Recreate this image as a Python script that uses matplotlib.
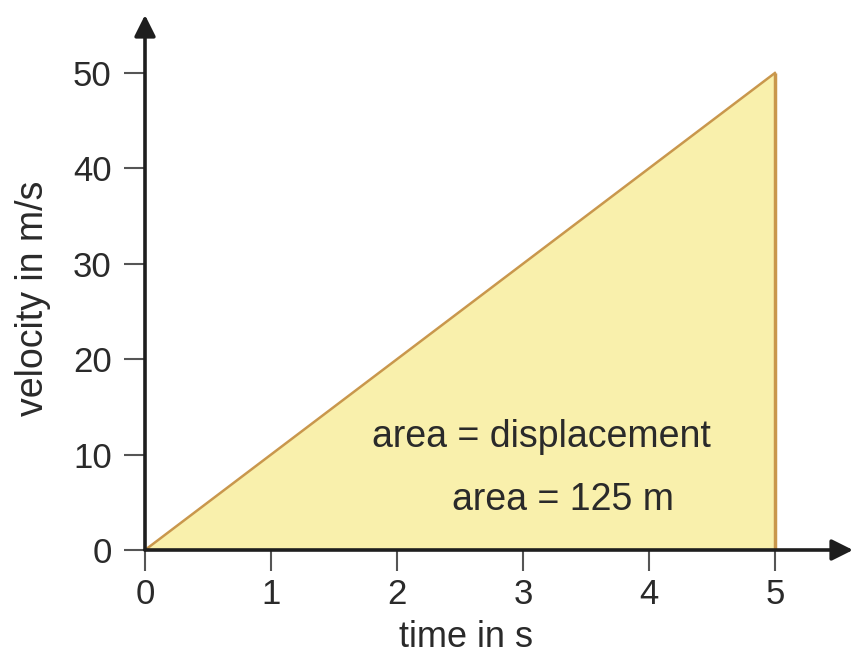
import matplotlib
matplotlib.use("Agg")
import matplotlib.pyplot as plt

# Data
times = [0, 5]
velocity = [0, 50]
x_ticks = [0, 1, 2, 3, 4, 5]
y_ticks = [0, 10, 20, 30, 40, 50]
x_label = "time in s"
y_label = "velocity in m/s"
annot1 = "area = displacement"
annot2 = "area = 125 m"

plt.rcParams['font.family'] = ['Liberation Sans', 'DejaVu Sans']

fig = plt.figure(figsize=(8.64, 6.58), dpi=100)
ax = fig.add_axes([145/864, 108/658, 708/864, 535/658])
ax.set_xlim(0, 5.62)
ax.set_ylim(0, 56.08)
for s in ax.spines.values():
    s.set_visible(False)

fill_col = '#f9f0ac'
edge_col = '#c9974c'
ax.fill_between(times, velocity, 0, color=fill_col, lw=0)
ax.plot(times, velocity, color=edge_col, lw=1.8)
ax.vlines(times[-1], 0, velocity[-1], color=edge_col, lw=2.5)

axis_col = '#1e1e1e'
arr = dict(arrowstyle='-|>', lw=2.6, color=axis_col, mutation_scale=32, shrinkA=0, shrinkB=0)
ax.annotate('', xy=(5.62, 0), xytext=(0, 0), arrowprops=arr, annotation_clip=False)
ax.annotate('', xy=(0, 56.08), xytext=(0, 0), arrowprops=arr, annotation_clip=False)

ax.set_xticks(x_ticks)
ax.set_yticks(y_ticks)
ax.tick_params(axis='both', direction='out', length=15, width=1.5, color='#555555',
               labelsize=25, labelcolor='#2a2a2a')
ax.tick_params(axis='x', pad=5)
ax.tick_params(axis='y', pad=9)

txt_col = '#2a2a2a'
ax.text(2.55, -10.2, x_label, ha='center', va='baseline', fontsize=26, color=txt_col, clip_on=False)
ax.text(-0.81, 26.4, y_label, ha='center', va='baseline', rotation=90, rotation_mode='anchor',
        fontsize=27, color=txt_col, clip_on=False)

ax.text(3.15, 10.8, annot1, ha='center', va='baseline', fontsize=27, color=txt_col)
ax.text(3.32, 4.2, annot2, ha='center', va='baseline', fontsize=27, color=txt_col)

fig.savefig('out.png', dpi=100)
